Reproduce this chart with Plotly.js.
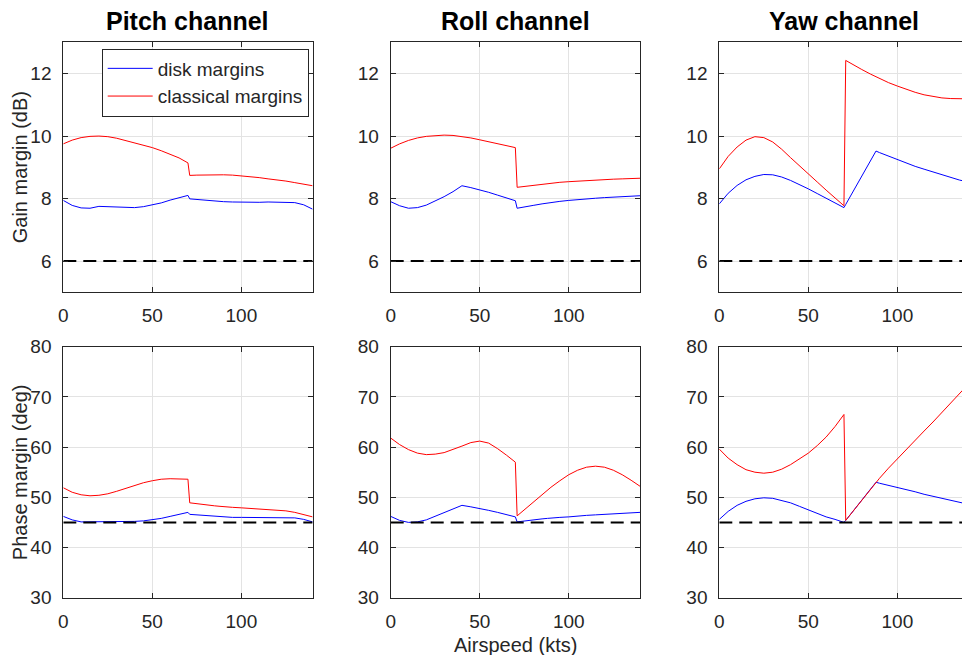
<!DOCTYPE html>
<html>
<head>
<meta charset="utf-8">
<script src="https://cdn.plot.ly/plotly-3.0.1.min.js"></script>
<style>
html,body{margin:0;padding:0;overflow:hidden;background:#fff;}
#chart{width:970px;height:655px;}
</style>
</head>
<body>
<div id="chart"></div>
<script>
// ---- data ----
const airspeed = [0,5,10,15,20,25,30,35,40,45,50,55,60,65,70,71,75,80,85,88,90,95,100,105,110,115,120,125,130,135,140];

const pitchGainDisk    = [7.94,7.78,7.70,7.69,7.75,7.74,7.71,7.70,7.71,7.74,7.79,7.86,7.95,8.03,8.10, 7.99,7.97,7.94,7.92,7.91,7.90,7.89,7.88,7.88,7.88,7.89,7.89,7.89,7.87,7.80,7.66];
const pitchGainClassic = [9.75,9.87,9.95,9.99,10.0,9.98,9.93,9.86,9.79,9.71,9.63,9.53,9.42,9.30,9.14, 8.74,8.75,8.76,8.76,8.76,8.76,8.75,8.73,8.70,8.67,8.63,8.60,8.56,8.51,8.46,8.41];
const rollGainDisk     = [7.90,7.77,7.69,7.71,7.79,7.92,8.06,8.22,8.41,8.35,8.28,8.20,8.11,8.02,7.93, 7.69,7.72,7.78,7.83,7.86,7.87,7.91,7.94,7.97,7.99,8.01,8.03,8.05,8.07,8.08,8.09];
const rollGainClassic  = [9.61,9.75,9.86,9.94,9.99,10.02,10.03,10.02,9.99,9.94,9.88,9.82,9.76,9.70,9.63, 8.36,8.39,8.42,8.46,8.48,8.49,8.52,8.54,8.56,8.58,8.59,8.61,8.62,8.63,8.64,8.65];
const yawGainDisk      = [7.83,8.17,8.42,8.60,8.71,8.77,8.76,8.69,8.58,8.45,8.31,8.16,8.01,7.86,7.71, 7.81,8.21,8.71,9.21,9.52,9.47,9.36,9.24,9.13,9.03,8.94,8.85,8.76,8.67,8.59,8.53];
const yawGainClassic   = [8.95,9.35,9.65,9.87,9.98,9.95,9.81,9.58,9.31,9.04,8.79,8.53,8.27,8.02,7.77, 12.42,12.28,12.13,11.98,11.90,11.84,11.71,11.60,11.49,11.40,11.32,11.26,11.22,11.20,11.19,11.19];

const pitchPhaseDisk    = [46.2,45.5,45.1,45.1,45.2,45.2,45.1,45.1,45.2,45.3,45.5,45.8,46.2,46.6,47.0, 46.6,46.5,46.3,46.2,46.1,46.1,46.0,46.0,46.0,46.0,46.0,46.0,46.0,45.9,45.6,45.1];
const pitchPhaseClassic = [51.9,51.0,50.5,50.3,50.4,50.7,51.2,51.8,52.4,52.9,53.3,53.6,53.7,53.7,53.6, 48.9,48.7,48.5,48.3,48.2,48.1,48.0,47.9,47.8,47.7,47.6,47.5,47.3,47.0,46.6,46.1];
const rollPhaseDisk     = [46.2,45.4,45.0,45.1,45.5,46.2,46.9,47.7,48.4,48.1,47.8,47.4,47.0,46.6,46.1, 45.1,45.3,45.5,45.7,45.8,45.9,46.0,46.1,46.3,46.4,46.5,46.6,46.7,46.8,46.9,47.0];
const rollPhaseClassic  = [61.8,60.5,59.5,58.8,58.5,58.6,58.9,59.5,60.2,60.9,61.2,60.8,59.7,58.4,57.0, 46.3,47.5,49.0,50.5,51.4,52.0,53.3,54.5,55.4,56.0,56.2,56.0,55.4,54.5,53.4,52.2];
const yawPhaseDisk      = [45.6,47.2,48.4,49.2,49.7,49.9,49.8,49.4,48.9,48.2,47.5,46.8,46.1,45.6,45.0, 45.4,47.2,49.4,51.7,53.0,52.8,52.4,51.9,51.5,51.1,50.6,50.2,49.8,49.4,49.0,48.6];
const yawPhaseClassic   = [59.6,57.8,56.5,55.5,55.0,54.8,55.0,55.6,56.5,57.6,58.8,60.3,62.0,64.1,66.5, 45.4,47.2,49.4,51.7,53.0,53.8,55.8,57.7,59.5,61.4,63.2,65.0,66.9,68.8,70.7,72.6];

const refX = [0, 140];
const gainRequirement = [6, 6];
const phaseRequirement = [45, 45];

const channelTitles = ['Pitch channel', 'Roll channel', 'Yaw channel'];
const seriesNames = ['disk margins', 'classical margins'];
const gainTicks = [6, 8, 10, 12];
const phaseTicks = [30, 40, 50, 60, 70, 80];
const speedTicks = [0, 50, 100];

// ---- layout geometry ----
const W = 970, H = 655;
const FONT = '"Liberation Sans", Arial, Helvetica, sans-serif';
const TXT = '#262626';
const colLeft = [63.3, 390.7, 719.3];
const colWidth = 249.3;
const rowTop = [42.3, 346.7];
const rowBottom = [292.3, 597.7];

const gainData = [[pitchGainDisk, pitchGainClassic], [rollGainDisk, rollGainClassic], [yawGainDisk, yawGainClassic]];
const phaseData = [[pitchPhaseDisk, pitchPhaseClassic], [rollPhaseDisk, rollPhaseClassic], [yawPhaseDisk, yawPhaseClassic]];

const traces = [];
const layout = {
  width: W, height: H,
  margin: {l: 0, r: 0, t: 0, b: 0},
  paper_bgcolor: '#fff', plot_bgcolor: '#fff',
  font: {family: FONT, size: 19, color: TXT},
  showlegend: true,
  legend: {
    x: 101.7 / W, y: 1 - 48.5 / H, xanchor: 'left', yanchor: 'top',
    bgcolor: '#fff', bordercolor: '#262626', borderwidth: 1,
    font: {family: FONT, size: 19, color: TXT},
    tracegroupgap: 0, itemwidth: 45
  },
  annotations: []
};

function axisBase() {
  return {
    showline: true, linecolor: '#262626', linewidth: 1, mirror: 'ticks',
    ticks: 'inside', ticklen: 5, tickwidth: 1, tickcolor: '#262626',
    showgrid: true, gridcolor: '#e3e3e3', gridwidth: 1,
    zeroline: false, fixedrange: true,
    tickfont: {family: FONT, size: 19, color: TXT}
  };
}

let idx = 0;
for (let r = 0; r < 2; r++) {
  for (let c = 0; c < 3; c++) {
    idx++;
    const xa = idx === 1 ? 'x' : 'x' + idx;
    const ya = idx === 1 ? 'y' : 'y' + idx;
    const xk = idx === 1 ? 'xaxis' : 'xaxis' + idx;
    const yk = idx === 1 ? 'yaxis' : 'yaxis' + idx;
    const data = r === 0 ? gainData[c] : phaseData[c];
    const ref = r === 0 ? gainRequirement : phaseRequirement;
    traces.push({x: airspeed, y: data[0], xaxis: xa, yaxis: ya, type: 'scatter', mode: 'lines',
      line: {color: '#0000ff', width: 1}, name: seriesNames[0], showlegend: idx === 1, hoverinfo: 'skip'});
    traces.push({x: airspeed, y: data[1], xaxis: xa, yaxis: ya, type: 'scatter', mode: 'lines',
      line: {color: '#ff0000', width: 1}, name: seriesNames[1], showlegend: idx === 1, hoverinfo: 'skip'});
    traces.push({x: refX, y: ref, xaxis: xa, yaxis: ya, type: 'scatter', mode: 'lines',
      line: {color: '#000000', width: 2, dash: '13px,7px'}, showlegend: false, hoverinfo: 'skip'});

    const x0 = colLeft[c] / W, x1 = (colLeft[c] + colWidth) / W;
    const y1 = 1 - rowTop[r] / H, y0 = 1 - rowBottom[r] / H;
    layout[xk] = Object.assign(axisBase(), {
      domain: [x0, x1], anchor: ya, range: [0, 140], tickvals: speedTicks, ticklabelstandoff: 6
    });
    layout[yk] = Object.assign(axisBase(), {
      domain: [y0, y1], anchor: xa,
      range: r === 0 ? [5, 13] : [30, 80],
      tickvals: r === 0 ? gainTicks : phaseTicks, ticklabelstandoff: 7
    });
  }
}

// column titles
for (let c = 0; c < 3; c++) {
  layout.annotations.push({
    text: '<b>' + channelTitles[c] + '</b>', xref: 'paper', yref: 'paper',
    x: (colLeft[c] + colWidth / 2) / W, y: 1 - 21 / H, xanchor: 'center', yanchor: 'middle',
    showarrow: false, font: {family: FONT, size: 25, color: '#000'}
  });
}
// y axis titles
layout.annotations.push({
  text: 'Gain margin (dB)', xref: 'paper', yref: 'paper', textangle: -90,
  x: 20 / W, y: 1 - (rowTop[0] + rowBottom[0]) / 2 / H, xanchor: 'center', yanchor: 'middle',
  showarrow: false, font: {family: FONT, size: 20, color: TXT}
});
layout.annotations.push({
  text: 'Phase margin (deg)', xref: 'paper', yref: 'paper', textangle: -90,
  x: 20 / W, y: 1 - (rowTop[1] + rowBottom[1]) / 2 / H, xanchor: 'center', yanchor: 'middle',
  showarrow: false, font: {family: FONT, size: 20, color: TXT}
});
// x axis title
layout.annotations.push({
  text: 'Airspeed (kts)', xref: 'paper', yref: 'paper',
  x: (colLeft[1] + colWidth / 2) / W, y: 1 - 645 / H, xanchor: 'center', yanchor: 'middle',
  showarrow: false, font: {family: FONT, size: 20, color: TXT}
});

Plotly.newPlot('chart', traces, layout, {displayModeBar: false, staticPlot: true});
</script>
</body>
</html>
